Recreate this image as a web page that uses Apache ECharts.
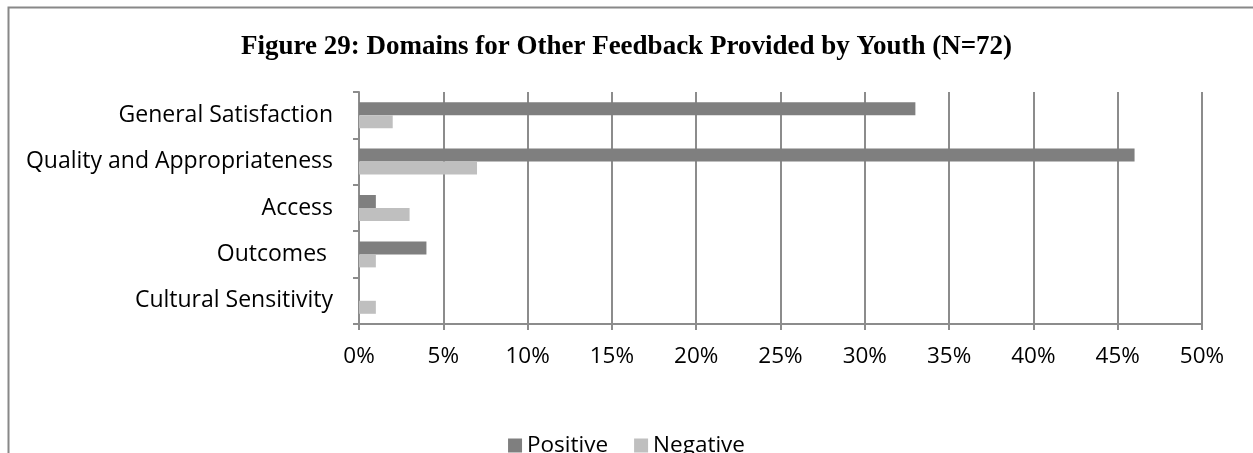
<!DOCTYPE html>
<html><head><meta charset="utf-8">
<script src="https://cdn.jsdelivr.net/npm/echarts@6/dist/echarts.min.js"></script>
<style>html,body{margin:0;padding:0;background:#fff}#c{width:1253px;height:453px}</style>
</head><body><div id="c"></div>
<script>
const categories = ["General Satisfaction", "Quality and Appropriateness", "Access", "Outcomes ", "Cultural Sensitivity"];
const positive = [33, 46, 1, 4, 0];
const negative = [2, 7, 3, 1, 1];
const titleText = "Figure 29: Domains for Other Feedback Provided by Youth (N=72)";

const chart = echarts.init(document.getElementById('c'), null, {renderer: 'canvas'});
const labelFont = "'Open Sans', 'Noto Sans', sans-serif";
chart.setOption({
  animation: false,
  backgroundColor: '#fff',
  graphic: [{
    type: 'rect', left: 6, top: 5, shape: {width: 1400, height: 600},
    style: {fill: 'none', stroke: '#888', lineWidth: 2}, silent: true, z: -1
  }],
  title: {
    text: titleText, left: 'center', top: 29,
    textStyle: {fontFamily: "'Liberation Serif', serif", fontWeight: 'bold', fontSize: 27, color: '#000'}
  },
  legend: {
    top: 429, left: 'center', itemWidth: 14, itemHeight: 14, itemGap: 26,
    icon: 'rect',
    textStyle: {fontFamily: labelFont, fontSize: 22.5, color: '#000'},
    data: ['Positive', 'Negative']
  },
  grid: {left: 359, right: 51, top: 92, bottom: 129},
  xAxis: {
    type: 'value', min: 0, max: 50, interval: 5,
    axisLine: {show: true, lineStyle: {color: '#8c8c8c', width: 2}},
    axisTick: {show: true, length: 6, lineStyle: {color: '#8c8c8c', width: 2}},
    splitLine: {show: true, lineStyle: {color: '#8c8c8c', width: 2}},
    axisLabel: {formatter: '{value}%', fontFamily: labelFont, fontSize: 22.5, color: '#000', margin: 21}
  },
  yAxis: {
    type: 'category', inverse: true, data: categories,
    axisLine: {show: true, lineStyle: {color: '#8c8c8c', width: 2}},
    axisTick: {show: true, length: 6, lineStyle: {color: '#8c8c8c', width: 2}},
    axisLabel: {fontFamily: labelFont, fontSize: 23, color: '#000', margin: 26}
  },
  series: [
    {name: 'Positive', type: 'bar', data: positive, barGap: '0%', barCategoryGap: '44%',
     itemStyle: {color: '#7f7f7f'}},
    {name: 'Negative', type: 'bar', data: negative, barGap: '0%', barCategoryGap: '44%',
     itemStyle: {color: '#bfbfbf'}}
  ]
});
</script></body></html>
